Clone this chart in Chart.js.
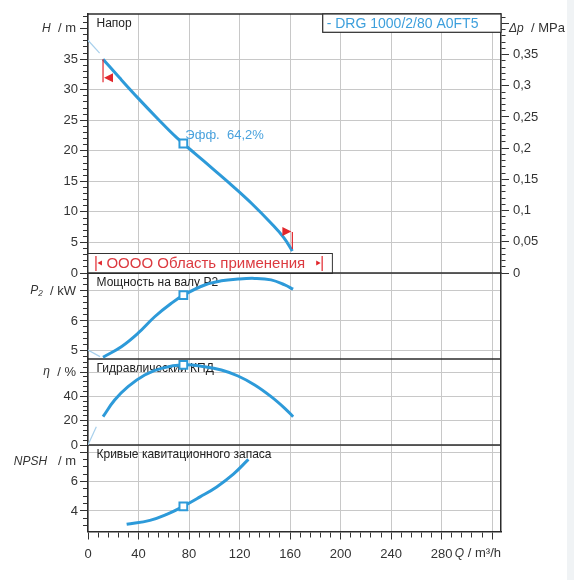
<!DOCTYPE html>
<html>
<head>
<meta charset="utf-8">
<script src="https://cdn.jsdelivr.net/npm/chart.js@4.4.1/dist/chart.umd.min.js"></script>
<style>
  html, body { margin: 0; padding: 0; background: #fff; }
  canvas { display: block; }
</style>
</head>
<body>
<canvas id="pump" width="574" height="580"></canvas>
<script>
// Flow Q, m³/h
const qRange = [0, 327];
const xTickLabels = [0, 40, 80, 120, 160, 200, 240, 280];

// Head H, m
const headQ = [11.9, 25, 40, 55, 70, 85, 100, 115, 130, 145, 155, 161.8];
const headH = [35.0, 31.95, 28.55, 25.3, 22.2, 19.5, 16.85, 14.15, 11.3, 8.15, 5.8, 3.6];
const headExtQ = [0, 9.2];
const headExtH = [38.1, 36.0];

// Shaft power P2, kW
const powerQ = [11.9, 26.4, 39.6, 52.8, 66, 76, 92.4, 105.6, 118.8, 132, 145, 155.8, 162.4];
const powerP = [4.79, 5.14, 5.59, 6.14, 6.59, 6.87, 7.2, 7.34, 7.4, 7.42, 7.37, 7.2, 7.06];
const powerExtQ = [0, 9.5];
const powerExtP = [5.03, 4.81];

// Hydraulic efficiency, %
const etaQ = [11.9, 21.1, 31.7, 44.9, 58, 76, 92.4, 105.6, 118.8, 132, 145, 155.8, 162.4];
const etaV = [23.3, 37, 48, 57.6, 63.1, 66.0, 64.4, 61.7, 56.8, 49.4, 39.8, 30.2, 23.3];
const etaExtQ = [0, 6.6];
const etaExtV = [0, 15];

// NPSH, m
const npshQ = [30.6, 49, 62.3, 75.5, 88.7, 101.9, 115.1, 127];
const npshV = [3.09, 3.36, 3.77, 4.32, 4.96, 5.64, 6.51, 7.52];

// Duty point
const dutyQ = 75.5;
const dutyH = 21.2;
const dutyP = 6.86;
const dutyEta = 66.0;
const dutyNpsh = 4.32;
const dutyLabel = 'Эфф.  64,2%';

// Application range (Q values)
const appRange = [6.3, 185.4];
const appBoxEnd = 193.5;

const pumpName = '- DRG 1000/2/80 A0FT5';
const panelTitles = ['Напор', 'Мощность на валу P2', 'Гидравлический КПД', 'Кривые кавитационного запаса'];

const FAM = "'Liberation Sans', Arial, sans-serif";
const BLUE = '#2d9ad9';
const FAINT = '#a8d0ec';
const RED = '#e2262c';
const GRID = '#c8c8c8';
const FRAME = '#2b2b2b';

Chart.defaults.font.family = FAM;
Chart.defaults.font.size = 13;
Chart.defaults.color = '#333';

const pts = (xs, ys) => xs.map((x, i) => ({ x, y: ys[i] }));
const fmt = (v) => String(+v.toFixed(2)).replace('.', ',');

const curve = (data, axis) => ({
  data, yAxisID: axis, borderColor: BLUE, borderWidth: 3, pointRadius: 0,
  tension: 0.4, fill: false, order: 1,
});
const ext = (data, axis) => ({
  data, yAxisID: axis, borderColor: FAINT, borderWidth: 1.2, pointRadius: 0, fill: false, order: 2,
});
const duty = (y, axis) => ({
  data: [{ x: dutyQ, y }], yAxisID: axis, showLine: false, pointStyle: 'rect',
  pointRadius: 5.5, pointBorderWidth: 2, pointBackgroundColor: '#fff', pointBorderColor: BLUE, order: 0,
});

// y axis in a stacked panel
const yAxis = (opts) => ({
  type: 'linear', position: 'left', stack: 'L', stackWeight: opts.weight,
  min: opts.min, max: opts.max,
  ticks: {
    stepSize: opts.step, autoSkip: false, includeBounds: false, padding: 2,
    callback: (v) => (opts.label(v) ? fmt(v) : ''),
  },
  grid: {
    color: (c) => (c.tick && opts.grid(c.tick.value) ? GRID : 'rgba(0,0,0,0)'),
    tickColor: '#333', tickLength: 8,
    tickBorderDash: (c) => (c.tick && opts.major(c.tick.value) ? [] : [0, 3, 5, 100]),
  },
  border: { color: FRAME, width: 1.5 },
  afterFit: (s) => { s.width = 88; },
});

const near = (v, m) => Math.abs(v / m - Math.round(v / m)) < 1e-6;

const scales = {
  x: {
    type: 'linear', position: 'bottom', min: qRange[0], max: qRange[1],
    ticks: {
      stepSize: 8, autoSkip: false, includeBounds: false, maxRotation: 0, padding: 7,
      callback: (v) => (xTickLabels.includes(v) ? String(v) : ''),
    },
    grid: {
      color: (c) => (c.tick && near(c.tick.value, 40) ? GRID : 'rgba(0,0,0,0)'),
      tickColor: '#333', tickLength: 8,
      tickBorderDash: (c) => (c.tick && near(c.tick.value, 40) ? [] : [5, 100]),
    },
    border: { color: FRAME, width: 1.5 },
    afterFit: (s) => { s.height = 48.5; },
  },
  npsh: yAxis({ weight: 86.5, min: 2.6, max: 8.5, step: 0.5,
    label: (v) => near(v, 2) && v < 8, grid: (v) => near(v, 2), major: (v) => near(v, 2) }),
  eta: yAxis({ weight: 86, min: 0, max: 70.8, step: 4,
    label: (v) => near(v, 20) && v < 60, grid: (v) => near(v, 20), major: (v) => near(v, 20) }),
  p: yAxis({ weight: 86, min: 4.73, max: 7.6, step: 0.2,
    label: (v) => near(v, 1) && v < 7, grid: (v) => near(v, 1), major: (v) => near(v, 1) }),
  h: yAxis({ weight: 259, min: 0, max: 42.4, step: 1,
    label: (v) => near(v, 5) && v < 40, grid: (v) => near(v, 5) && v < 40, major: (v) => near(v, 5) }),
  dp: {
    type: 'linear', position: 'right', stack: 'R', stackWeight: 259, min: 0, max: 0.415,
    ticks: {
      stepSize: 0.01, autoSkip: false, includeBounds: false, padding: 4,
      callback: (v) => (near(v, 0.05) && v < 0.36 ? fmt(v) : ''),
    },
    grid: {
      drawOnChartArea: false, tickColor: '#333', tickLength: 8,
      tickBorderDash: (c) => (c.tick && near(c.tick.value, 0.05) ? [] : [4, 100]),
    },
    border: { color: FRAME, width: 1.5 },
    afterFit: (s) => { s.width = 73; },
  },
  rFill: {
    type: 'linear', position: 'right', stack: 'R', stackWeight: 258.5, min: 0, max: 1,
    ticks: { display: false }, grid: { display: false },
    border: { color: FRAME, width: 1.5 },
    afterFit: (s) => { s.width = 73; },
  },
};

function line(ctx, x0, y0, x1, y1) {
  ctx.beginPath(); ctx.moveTo(x0, y0); ctx.lineTo(x1, y1); ctx.stroke();
}
function tri(ctx, a, b, c) {
  ctx.beginPath(); ctx.moveTo(a[0], a[1]); ctx.lineTo(b[0], b[1]); ctx.lineTo(c[0], c[1]);
  ctx.closePath(); ctx.fill();
}
function unitLabel(ctx, ital, rest, x, y, align) {
  const fi = `italic 12px ${FAM}`, fn = `13px ${FAM}`;
  ctx.font = fi; const w1 = ctx.measureText(ital).width;
  ctx.font = fn; const w2 = ctx.measureText(rest).width;
  const x0 = align === 'right' ? x - w1 - w2 : x;
  ctx.textAlign = 'left'; ctx.textBaseline = 'middle'; ctx.fillStyle = '#333';
  ctx.font = fi; ctx.fillText(ital, x0, y);
  ctx.font = fn; ctx.fillText(rest, x0 + w1, y);
}

const decor = {
  id: 'decor',
  beforeDraw(chart) {
    const { ctx, width, height } = chart;
    ctx.save();
    ctx.fillStyle = '#fff';
    ctx.fillRect(0, 0, width, height);
    ctx.fillStyle = '#f0f3f5';
    ctx.fillRect(567, 0, width - 567, height);
    ctx.restore();
  },
  beforeDatasetsDraw(chart) {
    const { ctx, chartArea: a, scales: s } = chart;
    ctx.save();
    // application range box
    const bx0 = a.left, bx1 = s.x.getPixelForValue(appBoxEnd);
    const by1 = s.h.bottom, by0 = by1 - 20;
    ctx.fillStyle = '#fff';
    ctx.fillRect(bx0, by0, bx1 - bx0, by1 - by0);
    ctx.strokeStyle = '#333'; ctx.lineWidth = 1;
    ctx.strokeRect(bx0, by0 + 0.5, bx1 - bx0, by1 - by0);
    const r0 = s.x.getPixelForValue(appRange[0]), r1 = s.x.getPixelForValue(appRange[1]);
    const cy = (by0 + by1) / 2;
    ctx.strokeStyle = RED; ctx.fillStyle = RED; ctx.lineWidth = 1.2;
    line(ctx, r0, by0 + 3, r0, by1 - 2);
    line(ctx, r1, by0 + 3, r1, by1 - 2);
    tri(ctx, [r0 + 1.5, cy], [r0 + 6, cy - 2.5], [r0 + 6, cy + 2.5]);
    tri(ctx, [r1 - 1.5, cy], [r1 - 6, cy - 2.5], [r1 - 6, cy + 2.5]);
    ctx.font = `15px ${FAM}`; ctx.textAlign = 'left'; ctx.textBaseline = 'middle';
    ctx.fillStyle = '#dc3a40';
    ctx.fillText('OOOO Область применения', r0 + 10.5, cy + 1);

    // frame and panel separators
    ctx.strokeStyle = FRAME; ctx.lineWidth = 1.5;
    [a.top, s.p.top, s.eta.top, s.npsh.top].forEach((y) => line(ctx, a.left, y, a.right, y));

    // panel titles
    ctx.fillStyle = '#222'; ctx.font = `12px ${FAM}`;
    [s.h, s.p, s.eta, s.npsh].forEach((sc, i) => ctx.fillText(panelTitles[i], a.left + 8.5, sc.top + 10));

    // pump legend box
    const lx0 = 322.7, ly1 = a.top + 18.3;
    ctx.fillStyle = '#fff';
    ctx.fillRect(lx0, a.top, a.right - lx0, ly1 - a.top);
    ctx.lineWidth = 1.2; ctx.strokeStyle = FRAME;
    ctx.strokeRect(lx0, a.top, a.right - lx0, ly1 - a.top);
    ctx.fillStyle = '#3d9fdc'; ctx.font = `14px ${FAM}`;
    ctx.fillText(pumpName, lx0 + 4, a.top + 10);
    ctx.restore();
  },
  afterDatasetsDraw(chart) {
    const { ctx, chartArea: a, scales: s } = chart;
    ctx.save();
    // flags at the ends of the head curve
    const n = headQ.length - 1;
    const sx = s.x.getPixelForValue(headQ[0]), sy = s.h.getPixelForValue(headH[0]);
    const ex = s.x.getPixelForValue(headQ[n]), ey = s.h.getPixelForValue(headH[n]);
    ctx.strokeStyle = RED; ctx.fillStyle = RED; ctx.lineWidth = 1.2;
    line(ctx, sx, sy, sx, sy + 23);
    tri(ctx, [sx + 1, sy + 18.5], [sx + 10, sy + 14], [sx + 10, sy + 23]);
    line(ctx, ex, ey - 2, ex, ey - 19);
    tri(ctx, [ex - 1, ey - 19.5], [ex - 10, ey - 24], [ex - 10, ey - 15]);

    // duty point label
    ctx.fillStyle = '#4aa2dd'; ctx.font = `13px ${FAM}`;
    ctx.textAlign = 'left'; ctx.textBaseline = 'middle';
    ctx.fillText(dutyLabel, s.x.getPixelForValue(dutyQ) + 2, s.h.getPixelForValue(dutyH) - 8);

    // axis unit labels
    const lx = a.left - 12;
    unitLabel(ctx, 'H', '  / m', lx, s.h.getPixelForValue(40), 'right');
    unitLabel(ctx, 'P₂', '  / kW', lx, s.p.getPixelForValue(7), 'right');
    unitLabel(ctx, 'η', '  / %', lx, s.eta.getPixelForValue(60), 'right');
    unitLabel(ctx, 'NPSH', '   / m', lx, s.npsh.getPixelForValue(7.35), 'right');
    unitLabel(ctx, 'Δp', '  / MPa', a.right + 8, s.h.getPixelForValue(40), 'left');
    unitLabel(ctx, 'Q', ' / m³/h', a.right, s.x.top + 22, 'right');
    ctx.restore();
  },
};

new Chart(document.getElementById('pump'), {
  type: 'line',
  data: {
    datasets: [
      duty(dutyH, 'h'), duty(dutyP, 'p'), duty(dutyEta, 'eta'), duty(dutyNpsh, 'npsh'),
      curve(pts(headQ, headH), 'h'),
      curve(pts(powerQ, powerP), 'p'),
      curve(pts(etaQ, etaV), 'eta'),
      curve(pts(npshQ, npshV), 'npsh'),
      ext(pts(headExtQ, headExtH), 'h'),
      ext(pts(powerExtQ, powerExtP), 'p'),
      ext(pts(etaExtQ, etaExtV), 'eta'),
    ],
  },
  options: {
    responsive: false,
    animation: false,
    events: [],
    layout: { padding: { top: 14, left: 0, right: 0, bottom: 0 } },
    plugins: { legend: { display: false }, tooltip: { enabled: false } },
    scales,
  },
  plugins: [decor],
});
</script>
</body>
</html>
